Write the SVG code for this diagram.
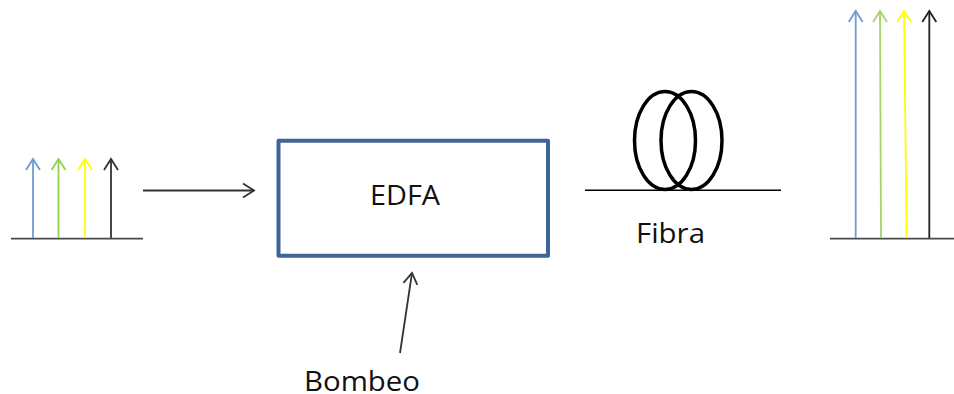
<svg xmlns="http://www.w3.org/2000/svg" width="954" height="394" viewBox="0 0 954 394">
<style>
.lbl{font-family:"Open Sans","Noto Sans","Liberation Sans",sans-serif;font-size:28px;fill:#111}
.base{stroke:#4a4a4a;stroke-width:1.8;fill:none}
.ar{fill:none;stroke-width:1.8}
.coil{fill:none;stroke:#000;stroke-width:3.500}
</style>
<defs>
<marker id="h" markerUnits="userSpaceOnUse" viewBox="-12 -9 14 18" markerWidth="14" markerHeight="18" refX="0" refY="0" orient="auto"><path d="M-11-7L0 0L-11 7" fill="none" stroke="context-stroke" stroke-width="1.800"/></marker>
</defs>
<rect width="954" height="394" fill="#fff"/>
<g id="connectors">
<path class="base" d="M11 238.700H143"/>
<path class="base" d="M830 238.700H954"/>
<path class="ar" stroke="#6f9bd1" marker-end="url(#h)" d="M33 238V159"/>
<path class="ar" stroke="#92d050" marker-end="url(#h)" d="M58.500 238V159"/>
<path class="ar" stroke="#ffff00" marker-end="url(#h)" d="M85 238V159"/>
<path class="ar" stroke="#333" marker-end="url(#h)" d="M111 238V159"/>
<path class="ar" stroke="#6f9bd1" marker-end="url(#h)" d="M855.700 238V11"/>
<path class="ar" stroke="#a4d46c" marker-end="url(#h)" d="M881 238L880 11"/>
<path class="ar" stroke="#ffff00" marker-end="url(#h)" d="M906.700 238L904 11"/>
<path class="ar" stroke="#222" marker-end="url(#h)" d="M929.300 238V11"/>
<path class="ar" stroke="#333" marker-end="url(#h)" d="M143 190.500H254"/>
<path class="ar" stroke="#333" marker-end="url(#h)" d="M400 353L412 273"/>
</g>
<g id="edfa">
<rect x="278.500" y="140.800" width="269.500" height="115" fill="#fff" stroke="#3f6595" stroke-width="4" stroke-linejoin="round"/>
<text class="lbl" x="370" y="205" textLength="70" lengthAdjust="spacingAndGlyphs">EDFA</text>
</g>
<g id="fibra">
<ellipse class="coil" cx="665" cy="140.500" rx="30.500" ry="49"/>
<ellipse class="coil" cx="691.500" cy="140.500" rx="30.500" ry="49"/>
<path d="M585 190.300H781" stroke="#000" stroke-width="1.500" fill="none"/>
<text class="lbl" x="636" y="243" textLength="69" lengthAdjust="spacingAndGlyphs">Fibra</text>
</g>
<g id="bombeo">
<text class="lbl" x="304" y="391" textLength="116" lengthAdjust="spacingAndGlyphs">Bombeo</text>
</g>
</svg>
